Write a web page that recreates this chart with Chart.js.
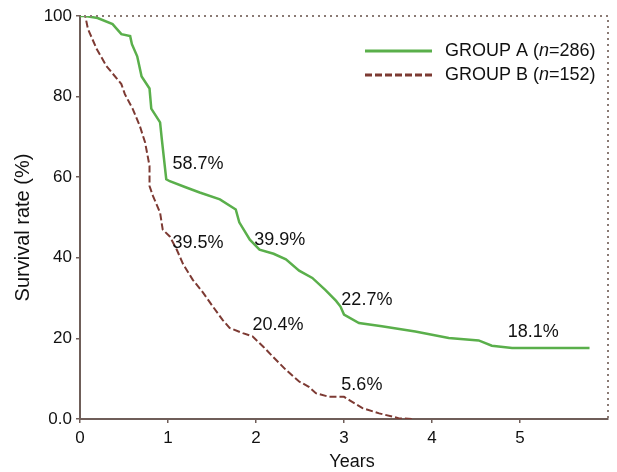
<!DOCTYPE html>
<html>
<head>
<meta charset="utf-8">
<script src="https://cdn.jsdelivr.net/npm/chart.js@4"></script>
<style>
  html, body { margin: 0; padding: 0; background: #fff; }
  #wrap { width: 617px; height: 472px; }
</style>
</head>
<body>
<div id="wrap"><canvas id="myChart" width="617" height="472"></canvas></div>
<script>
// =====================
// DATA
// =====================

// group A - years / survival (%)
var yearsA = [0, 0.06, 0.2, 0.37, 0.47, 0.57, 0.59, 0.65, 0.70, 0.79, 0.81, 0.91, 0.93, 0.98, 1.02, 1.2, 1.36, 1.59, 1.77, 1.81, 1.93, 2.04, 2.2, 2.34, 2.49, 2.64, 2.79, 2.91, 2.96, 3.0, 3.17, 3.43, 3.81, 4.19, 4.53, 4.68, 4.91, 5.79];
var survA  = [100, 100, 99.5, 98, 95.5, 95, 93, 90, 85, 82, 77, 73.6, 69.4, 59.5, 59, 57.5, 56.2, 54.5, 52, 48.8, 44.5, 42, 41, 39.6, 36.8, 35, 32, 29.3, 27.9, 25.9, 23.8, 23.0, 21.7, 20.1, 19.5, 18.2, 17.6, 17.6];

// group B - years / survival (%)
var yearsB = [0, 0.06, 0.09, 0.19, 0.30, 0.47, 0.51, 0.60, 0.68, 0.74, 0.79, 0.79, 0.83, 0.91, 0.94, 1.02, 1.10, 1.17, 1.28, 1.40, 1.51, 1.62, 1.70, 1.85, 1.96, 2.08, 2.19, 2.34, 2.49, 2.60, 2.68, 2.83, 3.0, 3.06, 3.21, 3.40, 3.62, 3.77];
var survB  = [100, 100, 96.8, 91.8, 87.6, 83.1, 80.6, 76.9, 72.7, 68.6, 62.8, 57.8, 55.3, 51.2, 47, 45.3, 42, 38.5, 34.6, 31.3, 27.9, 24.6, 22.6, 21.3, 20.5, 18.0, 15.5, 12.2, 9.3, 8.0, 6.4, 5.5, 5.5, 4.7, 2.7, 1.4, 0.2, 0];

var seriesNames = ["GROUP A", "GROUP B"];
var seriesN = ["286", "152"];

// axis ticks
var xTicks = [0, 1, 2, 3, 4, 5];
var yTicks = [0, 20, 40, 60, 80, 100];
var yTickLabels = ["0.0", "20", "40", "60", "80", "100"];

// percentage labels on the curves (text, year, value)
var noteTexts = ["58.7%", "39.5%", "39.9%", "20.4%", "22.7%", "5.6%", "18.1%"];
var noteYears = [1.05, 1.05, 1.98, 1.96, 2.97, 2.97, 4.86];
var noteVals  = [63.2, 43.7, 44.4, 23.4, 29.6, 8.5, 21.7];

// =======
// STYLES
// =======
var FONT = "'Liberation Sans', Arial, sans-serif";
var AXIS_COLOR = "#6f5e59";
var GREEN = "rgb(90,175,75)";
var RED = "#7d3a33";

function toPoints(xs, ys) {
    return xs.map(function (x, i) { return { x: x, y: ys[i] }; });
}

// frame (dotted top/right), axis titles, curve labels, legend
var extrasPlugin = {
    id: "extras",
    afterDatasetsDraw: function (chart) {
        var ctx = chart.ctx;
        var a = chart.chartArea;
        var xs = chart.scales.x;
        var ys = chart.scales.y;

        // dotted top + right frame
        ctx.save();
        ctx.strokeStyle = "#8a7a74";
        ctx.lineWidth = 2;
        ctx.setLineDash([2, 4]);
        ctx.beginPath();
        ctx.moveTo(a.left + 4, a.top);
        ctx.lineTo(a.right, a.top);
        ctx.lineTo(a.right, a.bottom);
        ctx.stroke();
        ctx.restore();

        // axis titles
        ctx.save();
        ctx.fillStyle = "#111";
        ctx.textAlign = "center";
        ctx.textBaseline = "middle";
        ctx.font = "18px " + FONT;
        ctx.fillText("Years", (a.left + a.right) / 2 + 8, 462);
        ctx.translate(23, (a.top + a.bottom) / 2 + 10);
        ctx.rotate(-Math.PI / 2);
        ctx.font = "20px " + FONT;
        ctx.fillText("Survival rate (%)", 0, 0);
        ctx.restore();

        // curve labels
        ctx.save();
        ctx.fillStyle = "#111";
        ctx.font = "18px " + FONT;
        ctx.textAlign = "left";
        ctx.textBaseline = "middle";
        noteTexts.forEach(function (t, i) {
            ctx.fillText(t, xs.getPixelForValue(noteYears[i]), ys.getPixelForValue(noteVals[i]));
        });
        ctx.restore();

        // legend
        var lx0 = 365, lx1 = 432, tx = 445;
        var rows = [51, 75];
        chart.data.datasets.forEach(function (ds, i) {
            var y = rows[i];
            ctx.save();
            ctx.strokeStyle = ds.borderColor;
            ctx.lineWidth = 3;
            ctx.setLineDash(ds.borderDash || []);
            ctx.beginPath();
            ctx.moveTo(lx0, y);
            ctx.lineTo(lx1, y);
            ctx.stroke();
            ctx.setLineDash([]);

            ctx.fillStyle = "#111";
            ctx.textBaseline = "middle";
            ctx.textAlign = "left";
            var x = tx;
            var parts = [[seriesNames[i] + " (", ""], ["n", "italic "], ["=" + seriesN[i] + ")", ""]];
            parts.forEach(function (p) {
                ctx.font = p[1] + "18px " + FONT;
                ctx.fillText(p[0], x, y);
                x += ctx.measureText(p[0]).width;
            });
            ctx.restore();
        });
    }
};

const ctx = document.getElementById("myChart");

const myChart = new Chart(ctx, {
    type: "line",
    data: {
        datasets: [
            {
                label: seriesNames[0],
                data: toPoints(yearsA, survA),
                borderColor: GREEN,
                borderWidth: 2.5,
                pointRadius: 0,
                fill: false,
                tension: 0
            },
            {
                label: seriesNames[1],
                data: toPoints(yearsB, survB),
                borderColor: RED,
                borderWidth: 2,
                borderDash: [7, 3],
                pointRadius: 0,
                fill: false,
                tension: 0
            }
        ]
    },
    options: {
        responsive: false,
        animation: false,
        devicePixelRatio: 1,
        layout: { padding: { top: 16, right: 9, left: 0, bottom: 0 } },
        plugins: {
            legend: { display: false },
            tooltip: { enabled: false }
        },
        scales: {
            x: {
                type: "linear",
                min: 0,
                max: 6,
                afterBuildTicks: function (scale) {
                    scale.ticks = xTicks.map(function (v) { return { value: v }; });
                },
                afterFit: function (scale) { scale.height = 53; },
                ticks: {
                    color: "#111",
                    font: { family: FONT, size: 17 },
                    padding: 5,
                    maxRotation: 0
                },
                grid: {
                    drawOnChartArea: false,
                    drawTicks: true,
                    tickLength: 4,
                    color: AXIS_COLOR,
                    lineWidth: 1.5
                },
                border: { display: true, color: AXIS_COLOR, width: 2 }
            },
            y: {
                type: "linear",
                min: 0,
                max: 100,
                afterBuildTicks: function (scale) {
                    scale.ticks = yTicks.map(function (v) { return { value: v }; });
                },
                afterFit: function (scale) { scale.width = 80; },
                ticks: {
                    color: "#111",
                    font: { family: FONT, size: 17 },
                    padding: 4,
                    callback: function (v) {
                        var i = yTicks.indexOf(v);
                        return i >= 0 ? yTickLabels[i] : "";
                    }
                },
                grid: {
                    drawOnChartArea: false,
                    drawTicks: true,
                    tickLength: 4,
                    color: AXIS_COLOR,
                    lineWidth: 1.5
                },
                border: { display: true, color: AXIS_COLOR, width: 2 }
            }
        }
    },
    plugins: [extrasPlugin]
});
</script>
</body>
</html>
